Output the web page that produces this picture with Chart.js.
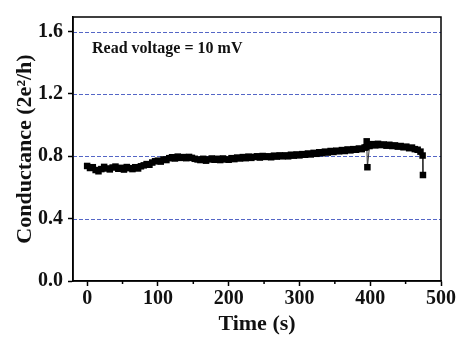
<!DOCTYPE html>
<html>
<head>
<meta charset="utf-8">
<script src="https://cdn.jsdelivr.net/npm/chart.js@4/dist/chart.umd.min.js"></script>
<style>
  html, body { margin: 0; padding: 0; background: #fff; }
  #wrap { width: 458px; height: 338px; }
</style>
</head>
<body>
<div id="wrap"><canvas id="chart" width="458" height="338"></canvas></div>
<script>
// Data
const timeS = [0, 4, 8, 12, 16, 20, 24, 28, 32, 36, 40, 44, 48, 52, 56, 60, 64, 68, 72, 76,
    80, 84, 88, 92, 96, 100, 104, 108, 112, 116, 120, 124, 128, 132, 136, 140, 144, 148, 152, 156,
    160, 164, 168, 172, 176, 180, 184, 188, 192, 196, 200, 204, 208, 212, 216, 220, 224, 228, 232, 236,
    240, 244, 248, 252, 256, 260, 264, 268, 272, 276, 280, 284, 288, 292, 296, 300, 304, 308, 312, 316,
    320, 324, 328, 332, 336, 340, 344, 348, 352, 356, 360, 364, 368, 372, 376, 380, 384, 388, 392, 394,
    395, 396, 399, 403, 407, 411, 415, 419, 423, 427, 431, 435, 439, 443, 447, 451, 455, 459, 463, 467,
    471, 474, 474.5];
const conductance = [0.738, 0.725, 0.730, 0.712, 0.704, 0.718, 0.732, 0.722, 0.716, 0.728, 0.734, 0.720, 0.726, 0.715, 0.731, 0.724, 0.718, 0.730, 0.722, 0.736,
    0.742, 0.750, 0.746, 0.760, 0.768, 0.772, 0.766, 0.780, 0.776, 0.788, 0.794, 0.786, 0.798, 0.790, 0.795, 0.788, 0.796, 0.790, 0.784, 0.780,
    0.776, 0.784, 0.772, 0.780, 0.786, 0.778, 0.784, 0.776, 0.786, 0.780, 0.778, 0.788, 0.782, 0.792, 0.786, 0.795, 0.788, 0.798, 0.790, 0.796,
    0.800, 0.792, 0.802, 0.796, 0.800, 0.794, 0.804, 0.798, 0.806, 0.800, 0.806, 0.800, 0.810, 0.804, 0.812, 0.806, 0.814, 0.810, 0.818, 0.812,
    0.822, 0.816, 0.826, 0.820, 0.830, 0.824, 0.834, 0.828, 0.836, 0.832, 0.840, 0.834, 0.844, 0.838, 0.846, 0.842, 0.850, 0.846, 0.856, 0.858,
    0.896, 0.730, 0.866, 0.878, 0.870, 0.880, 0.872, 0.876, 0.868, 0.874, 0.866, 0.870, 0.862, 0.866, 0.858, 0.862, 0.852, 0.856, 0.846, 0.842,
    0.830, 0.805, 0.680];
const xTicks = [0, 100, 200, 300, 400, 500];
const xMinorTicks = [50, 150, 250, 350, 450];
const yTicks = [0.0, 0.4, 0.8, 1.2, 1.6];
const yGridLines = [0.4, 0.8, 1.2, 1.6];
const noteText = 'Read voltage = 10 mV';

const FONT = "'Liberation Serif', 'Times New Roman', serif";

// dashed blue reference lines under the data
const gridPlugin = {
    id: 'dashGrid',
    beforeDatasetsDraw(chart) {
        const { ctx, chartArea: a, scales } = chart;
        ctx.save();
        ctx.strokeStyle = '#5466c6';
        ctx.lineWidth = 1;
        ctx.setLineDash([4, 2]);
        yGridLines.forEach(v => {
            const py = Math.round(scales.y.getPixelForValue(v)) + 0.5;
            ctx.beginPath();
            ctx.moveTo(a.left, py);
            ctx.lineTo(a.right, py);
            ctx.stroke();
        });
        ctx.restore();
    }
};

// box round the plot, minor x ticks, note text
const framePlugin = {
    id: 'frame',
    afterDraw(chart) {
        const { ctx, chartArea: a, scales } = chart;
        ctx.save();
        ctx.strokeStyle = '#000';
        ctx.lineWidth = 1.5;
        ctx.strokeRect(a.left, a.top, a.right - a.left, a.bottom - a.top);

        ctx.beginPath();
        xMinorTicks.forEach(v => {
            const px = scales.x.getPixelForValue(v);
            ctx.moveTo(px, a.bottom);
            ctx.lineTo(px, a.bottom + 3);
        });
        ctx.stroke();

        ctx.fillStyle = '#111';
        ctx.font = 'bold 16px ' + FONT;
        ctx.textBaseline = 'middle';
        ctx.fillText(noteText, a.left + 19, a.top + 32);
        ctx.restore();
    }
};

new Chart(document.getElementById('chart'), {
    type: 'line',
    data: {
        datasets: [{
            data: timeS.map((t, i) => ({ x: t, y: conductance[i] })),
            borderColor: '#333',
            borderWidth: 1,
            pointStyle: 'rect',
            pointRadius: 4.6,
            pointBackgroundColor: '#000',
            pointBorderColor: '#000',
            pointBorderWidth: 0,
            tension: 0
        }]
    },
    options: {
        responsive: false,
        animation: false,
        layout: { padding: { top: 10, right: 17, left: 0, bottom: 0 } },
        plugins: { legend: { display: false }, tooltip: { enabled: false } },
        scales: {
            x: {
                type: 'linear',
                min: -20,
                max: 500,
                afterBuildTicks: s => { s.ticks = xTicks.map(v => ({ value: v })); },
                afterFit: s => { s.height = 57; },
                grid: { drawOnChartArea: false, tickLength: 5, tickColor: '#000', tickWidth: 1.5 },
                border: { color: '#000', width: 1.5 },
                ticks: {
                    color: '#111',
                    padding: 1,
                    maxRotation: 0,
                    font: { family: FONT, size: 20, weight: 'bold' }
                },
                title: {
                    display: true,
                    text: 'Time (s)',
                    color: '#111',
                    padding: { top: 0, bottom: 0 },
                    font: { family: FONT, size: 22, weight: 'bold' }
                }
            },
            y: {
                min: 0,
                max: 1.69375,
                afterBuildTicks: s => { s.ticks = yTicks.map(v => ({ value: v })); },
                afterFit: s => { s.width = 73; },
                grid: {
                    drawOnChartArea: false,
                    tickLength: 5,
                    tickColor: '#000',
                    tickWidth: 1.5
                },
                border: { color: '#000', width: 1.5 },
                ticks: {
                    color: '#111',
                    padding: 5,
                    callback: v => v.toFixed(1),
                    font: { family: FONT, size: 20, weight: 'bold' }
                },
                title: {
                    display: true,
                    text: 'Conductance (2e²/h)',
                    color: '#111',
                    padding: { top: 12, bottom: 0 },
                    font: { family: FONT, size: 22, weight: 'bold' }
                }
            }
        }
    },
    plugins: [gridPlugin, framePlugin]
});
</script>
</body>
</html>
